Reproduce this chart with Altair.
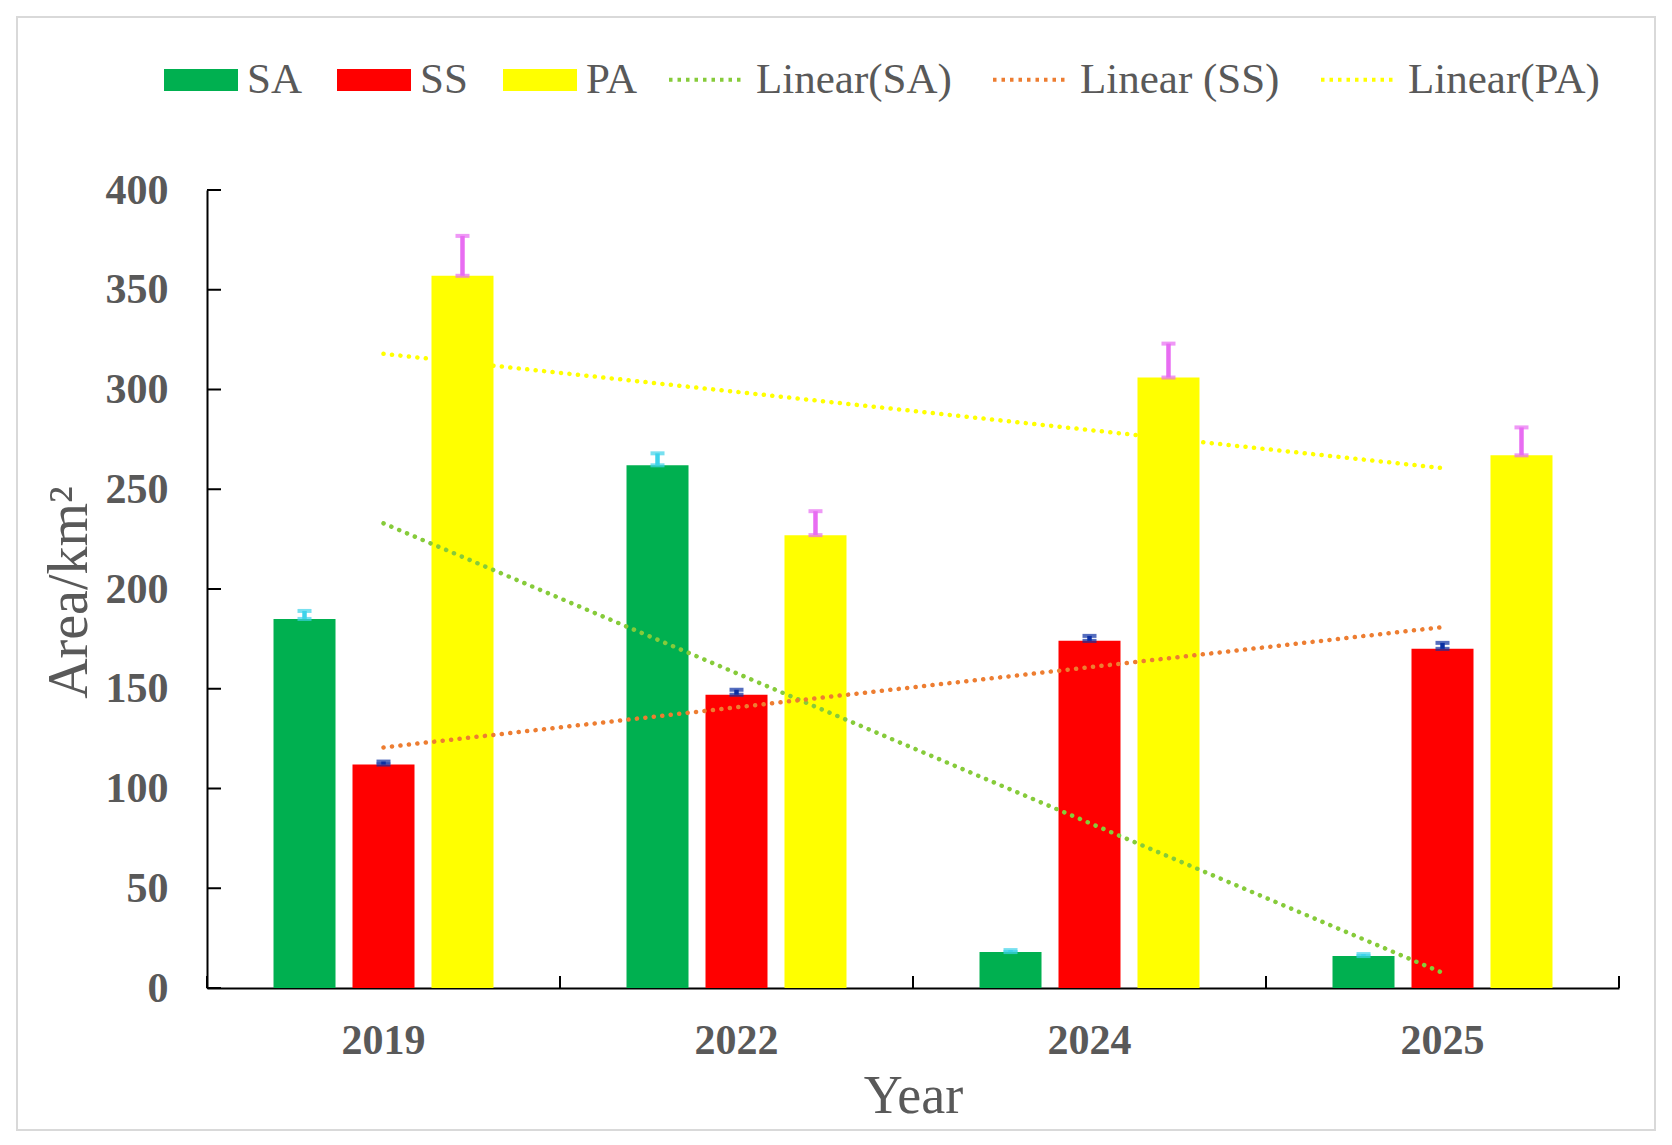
import json

import pandas as pd
import altair as alt

# values
years = ['2019', '2022', '2024', '2025']
series = ['SA', 'SS', 'PA']
trend_names = ['Linear(SA)', 'Linear (SS)', 'Linear(PA)']

sa = [185, 262, 18, 16]
ss = [112, 147, 174, 170]
pa = [357, 227, 306, 267]

sa_err = [4, 6, 1, 1]
ss_err = [1.5, 2.5, 2.5, 3]
pa_err = [20, 12, 17, 14]

y_ticks = [0, 50, 100, 150, 200, 250, 300, 350, 400]

bar_colors = ['#00B050', '#FF0000', '#FFFF00']
err_colors = ['#3DD3EA', '#0B2FA3', '#E86CF2']
trend_colors = ['#86CB3A', '#ED7D31', '#FFFF00']

rows = []
for name, trend, vals, errs in zip(series, trend_names, [sa, ss, pa], [sa_err, ss_err, pa_err]):
    for i, (yr, v, e) in enumerate(zip(years, vals, errs)):
        rows.append({'year': yr, 'idx': i + 1, 'series': name, 'trend': trend,
                     'value': v, 'err': e})
data = pd.DataFrame(rows)

W, H = 1412, 798
FONT = 'Liberation Serif'
GREY = '#595959'

x_axis = alt.Axis(title='Year', labelAngle=0, ticks=False, grid=False,
                  labelFontWeight='bold', labelFontSize=42, labelPadding=32,
                  titleFontSize=54, titleFontWeight='normal',
                  titleX=W / 2, titleY=124, titleBaseline='alphabetic',
                  domainColor='black', domainWidth=2)
y_axis = alt.Axis(title='Area/km²', values=y_ticks, ticks=False, grid=False,
                  labelFontWeight='bold', labelFontSize=42, labelPadding=39,
                  titleFontSize=56, titleFontWeight='normal',
                  titleX=-121, titleY=402, titleBaseline='alphabetic',
                  domainColor='black', domainWidth=2)
x_scale = alt.Scale(domain=years, paddingInner=0, paddingOuter=0)
y_scale = alt.Scale(domain=[0, 400], nice=False)


def xenc(**kw):
    return alt.X('year:N', scale=x_scale, axis=x_axis, **kw)


def yenc(field):
    return alt.Y(field, scale=y_scale, axis=y_axis)


xoff = alt.XOffset('series:N', scale=alt.Scale(domain=series, paddingInner=0.215,
                                                paddingOuter=0.842))

bar_legend = alt.Legend(title=None, orient='none', legendX=-43, legendY=-147,
                        direction='horizontal',
                        symbolType='M-1,-0.3L1,-0.3L1,0.3L-1,0.3Z', symbolSize=5476,
                        symbolStrokeWidth=0, labelOffset=9, columnPadding=35)
line_legend = alt.Legend(title=None, orient='none', legendX=460, legendY=-149,
                         direction='horizontal', symbolType='stroke', symbolSize=5329,
                         symbolStrokeWidth=4, symbolDash=[3.5, 5],
                         labelOffset=12, columnPadding=33)

# grey frame round the whole figure
frame = alt.Chart(pd.DataFrame({'f': [0]})).mark_rect(
    fillOpacity=0, stroke='#D9D9D9', strokeWidth=2
).encode(x=alt.value(-190), x2=alt.value(1448), y=alt.value(-173), y2=alt.value(940))

bars = alt.Chart(data).mark_bar().encode(
    x=xenc(),
    xOffset=xoff,
    y=yenc('value:Q'),
    fill=alt.Fill('series:N', scale=alt.Scale(domain=series, range=bar_colors),
                  legend=bar_legend)
)

err_color = alt.Color('series:N', scale=alt.Scale(domain=series, range=err_colors),
                      legend=None)
err_base = alt.Chart(data).transform_calculate(hi='datum.value + datum.err')
stem = err_base.mark_rule(strokeWidth=4.5).encode(
    x=xenc(), xOffset=xoff, y=yenc('value:Q'), y2='hi:Q', color=err_color)
cap_lo = err_base.mark_tick(size=14, thickness=4).encode(
    x=xenc(), xOffset=xoff, y=yenc('value:Q'), color=err_color)
cap_hi = err_base.mark_tick(size=14, thickness=4).encode(
    x=xenc(), xOffset=xoff, y=yenc('hi:Q'), color=err_color)

lines = alt.Chart(data).transform_regression(
    'idx', 'value', groupby=['trend'], method='linear'
).transform_calculate(
    year=f'{json.dumps(years)}[round(datum.idx) - 1]'
).mark_line(strokeWidth=4.5, strokeDash=[0.1, 8.4], strokeCap='round').encode(
    x=xenc(),
    y=yenc('value:Q'),
    stroke=alt.Stroke('trend:N', scale=alt.Scale(domain=trend_names, range=trend_colors),
                      legend=line_legend)
)

# inward ticks like the original
ytick = alt.Chart(pd.DataFrame({'tick': y_ticks})).mark_rule(
    color='black', strokeWidth=2
).encode(y=yenc('tick:Q'), x=alt.value(0), x2=alt.value(14))
xtick = alt.Chart(pd.DataFrame({'year': years})).mark_rule(
    color='black', strokeWidth=2
).encode(x=xenc(bandPosition=0), y=alt.value(H), y2=alt.value(H - 12))
xtick_end = alt.Chart(pd.DataFrame({'year': years[-1:]})).mark_rule(
    color='black', strokeWidth=2
).encode(x=xenc(bandPosition=1), y=alt.value(H), y2=alt.value(H - 12))

chart = alt.layer(
    frame, bars, stem, cap_lo, cap_hi, lines, ytick, xtick, xtick_end
).properties(
    width=W, height=H,
    autosize=alt.AutoSizeParams(type='none'),
    padding={'left': 199, 'top': 182, 'right': 41, 'bottom': 147}
).configure_view(
    strokeWidth=0
).configure_axis(
    labelFont=FONT, titleFont=FONT, labelColor=GREY, titleColor=GREY
).configure_legend(
    labelFont=FONT, labelFontSize=43, labelColor=GREY, padding=0, labelLimit=500
)

chart.save('out.html', embed_options={'renderer': 'svg', 'actions': False})
